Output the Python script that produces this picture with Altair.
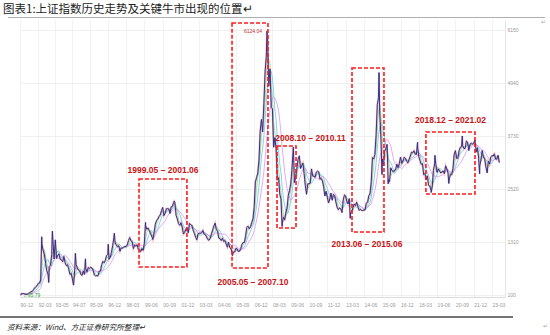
import altair as alt
import pandas as pd

# Monthly closes of the SSE Composite, 1990-12 .. 2023-08 (read/estimated)
closes_1990s = [
    127.6,
    130.0, 133.1, 120.2, 113.9, 114.8, 137.6, 145.6, 180.9, 180.2, 218.6, 259.6, 292.8,
    313.2, 364.6, 371.8, 445.3, 1265.8, 1120.0, 1030.4, 823.3, 649.9, 577.7, 750.0, 780.4,
    1029.0, 1358.0, 925.0, 1359.0, 933.0, 1007.0, 1035.0, 914.0, 902.0, 858.0, 981.0, 833.8,
    770.0, 793.0, 694.0, 571.0, 593.0, 467.0, 333.9, 720.0, 800.0, 719.0, 667.0, 647.9,
    562.0, 549.0, 648.0, 568.0, 700.0, 631.0, 727.0, 710.0, 735.0, 716.0, 664.0, 555.3,
    537.0, 541.0, 538.0, 644.0, 650.0, 797.0, 868.0, 835.0, 893.0, 1000.0, 1029.0, 917.0,
    966.0, 1068.0, 1224.0, 1407.0, 1298.0, 1243.0, 1202.0, 1224.0, 1098.0, 1174.0, 1172.0, 1194.0,
    1206.0, 1206.0, 1243.0, 1343.0, 1411.0, 1339.0, 1316.0, 1159.0, 1236.0, 1218.0, 1244.0, 1147.0,
    1135.0, 1091.0, 1158.0, 1120.0, 1279.0, 1690.0, 1601.0, 1628.0, 1571.0, 1510.0, 1447.0, 1367.0,
]
closes_2000s = [
    1535, 1714, 1800, 1836, 1894, 1928, 2023, 2101, 1911, 1961, 2070, 2073,
    2065, 1960, 2113, 2120, 2214, 2218, 1920, 1834, 1730, 1690, 1749, 1646,
    1491, 1524, 1603, 1636, 1516, 1733, 1707, 1686, 1581, 1503, 1420, 1358,
    1500, 1511, 1510, 1521, 1576, 1487, 1477, 1422, 1367, 1349, 1397, 1497,
    1590, 1675, 1742, 1595, 1555, 1400, 1386, 1342, 1397, 1321, 1341, 1266,
    1191, 1306, 1181, 1159, 1060, 1080, 1083, 1163, 1155, 1092, 1099, 1161,
    1258, 1299, 1298, 1440, 1641, 1672, 1612, 1658, 1753, 1837, 2099, 2675,
    2786, 2881, 3183, 3841, 4109, 3820, 4471, 5218, 5552, 5954, 4871, 5262,
    4383, 4348, 3473, 3693, 3433, 2736, 2776, 2397, 2293, 1729, 1871, 1821,
    1991, 2082, 2373, 2477, 2633, 2959, 3412, 2667, 2779, 2996, 3195, 3277,
]
closes_2010s = [
    2989, 3051, 3110, 2871, 2592, 2398, 2638, 2639, 2656, 2979, 2820, 2808,
    2791, 2905, 2928, 2911, 2743, 2762, 2701, 2568, 2359, 2469, 2333, 2199,
    2292, 2428, 2263, 2397, 2373, 2225, 2103, 2047, 2086, 2069, 1980, 2269,
    2385, 2366, 2237, 2178, 2301, 1979, 1994, 2098, 2175, 2141, 2220, 2116,
    2033, 2056, 2033, 2026, 2039, 2048, 2202, 2218, 2364, 2420, 2683, 3235,
    3210, 3310, 3748, 4442, 4612, 4277, 3664, 3206, 3053, 3383, 3445, 3539,
    2738, 2688, 3004, 2938, 2917, 2930, 2979, 3085, 3005, 3100, 3250, 3104,
    3159, 3242, 3223, 3155, 3117, 3192, 3273, 3361, 3349, 3393, 3317, 3307,
    3481, 3259, 3169, 3082, 3095, 2847, 2876, 2725, 2821, 2603, 2588, 2494,
    2585, 2941, 3091, 3078, 2899, 2979, 2933, 2886, 2905, 2929, 2872, 3050,
]
closes_2020s = [
    2977, 2880, 2750, 2860, 2852, 2985, 3310, 3396, 3218, 3225, 3392, 3473,
    3483, 3509, 3442, 3447, 3615, 3591, 3397, 3544, 3568, 3547, 3564, 3640,
    3361, 3462, 3252, 3047, 3186, 3399, 3253, 3202, 3024, 2893, 3151, 3089,
    3255, 3280, 3273, 3323, 3205, 3202, 3291, 3120,
]

# Intra-month extremes (highs / lows) visible as spikes in the chart
extreme_dates = [
    "1990-12-19", "1992-05-26", "1992-11-17", "1993-02-16", "1994-07-29", "1994-09-13",
    "1995-05-22", "1996-12-11", "1997-05-12", "1999-06-30", "2001-06-14", "2005-06-06",
    "2007-10-16", "2008-10-28", "2009-08-04", "2013-06-25", "2015-06-12", "2015-08-26",
    "2016-01-27", "2018-01-29", "2019-01-04", "2019-04-08", "2020-03-19", "2021-02-18",
    "2022-04-27", "2022-10-31",
]
extreme_values = [
    95.79, 1429, 386, 1558, 325, 1052,
    926, 1258, 1510, 1756, 2245, 998,
    6124.04, 1664, 3478, 1849, 5178, 2850,
    2638, 3587, 2440, 3288, 2646, 3731,
    2863, 2885,
]

# x-axis tick labels
tick_labels = ["90-12", "92-03", "93-05", "94-07", "95-09", "96-12", "98-03", "99-06",
               "00-09", "01-12", "03-03", "04-06", "05-09", "06-12", "08-03", "09-06",
               "10-09", "11-12", "13-03", "14-06", "15-09", "16-12", "18-03", "19-06",
               "20-09", "21-12", "23-03"]
y_ticks = [100, 1310, 2520, 3730, 4940, 6150]

# Highlighted bull-market boxes
box_labels = ["1999.05 – 2001.06", "2005.05 – 2007.10", "2008.10 – 2010.11",
              "2013.06 – 2015.06", "2018.12 – 2021.02"]
box_starts = ["1999-01-18", "2005-05-27", "2008-06-23", "2013-08-07", "2018-08-26"]
box_ends = ["2002-04-28", "2007-11-10", "2009-10-10", "2015-10-14", "2022-01-01"]
box_tops = [2748, 6310, 3502, 5282, 3821]
box_bottoms = [739, 717, 1630, 1538, 2406]
label_dates = ["2000-09-08", "2006-11-01", "2010-10-06", "2014-08-16", "2020-04-30"]
label_values = [2954, 397, 3684, 1264, 4095]

title_text = "图表1:上证指数历史走势及关键牛市出现的位置↵"
source_text = "资料来源：Wind、方正证券研究所整理↵"

# ---------------------------------------------------------------- data frames
closes = closes_1990s + closes_2000s + closes_2010s + closes_2020s
month_dates = pd.date_range("1991-01-01", periods=len(closes), freq="MS") - pd.Timedelta(days=1)
monthly = pd.DataFrame({"date": month_dates, "close": closes})
extremes = pd.DataFrame({"date": pd.to_datetime(extreme_dates), "close": extreme_values})
main = pd.concat([monthly, extremes]).sort_values("date").reset_index(drop=True)

boxes = pd.DataFrame({
    "start": pd.to_datetime(box_starts), "end": pd.to_datetime(box_ends),
    "top": box_tops, "bottom": box_bottoms,
    "ldate": pd.to_datetime(label_dates), "lval": label_values, "label": box_labels,
})
marks_df = pd.DataFrame({
    "date": pd.to_datetime(["2007-10-16", "1990-12-19"]),
    "close": [6124.04, 95.79],
    "text": ["6124.04", "←95.79"],
})

tick_dates = []
for t in tick_labels:
    yy = int(t[:2]); mm = int(t[3:])
    yr = 1900 + yy if yy > 50 else 2000 + yy
    tick_dates.append(alt.DateTime(year=yr, month=mm, date=1))

x_scale = alt.Scale(domain=[alt.DateTime(year=1990, month=12, date=1),
                            alt.DateTime(year=2024, month=1, date=20)])
y_scale = alt.Scale(domain=[54, 6378], nice=False, zero=False)

FONT = "Liberation Sans"

x_axis = alt.Axis(values=tick_dates, tickCount=60, format="%y-%m", labelAlign="left",
                  labelFontSize=5, labelColor="#9a9a9a", labelFont=FONT, grid=True,
                  gridColor="#ededed", gridWidth=0.8, domainColor="#dddddd", ticks=False,
                  labelPadding=5, labelOverlap=False, labelBound=False, title=None)
y_axis = alt.Axis(values=y_ticks, tickCount=20, format="d", orient="right", labelFontSize=5,
                  labelColor="#9a9a9a", labelFont=FONT, grid=True, gridColor="#ececec",
                  gridWidth=0.8, domainColor="#e6e6e6", ticks=False, labelPadding=2,
                  labelOverlap=False, title=None)

base = alt.Chart(monthly)

ma = base.transform_window(
    ma3="mean(close)", frame=[-2, 0], sort=[alt.SortField("date")]
).transform_window(
    ma6="mean(close)", frame=[-5, 0], sort=[alt.SortField("date")]
).transform_window(
    ma12="mean(close)", frame=[-11, 0], sort=[alt.SortField("date")]
).transform_fold(["ma3", "ma6", "ma12"], as_=["ma", "value"]).mark_line(
    strokeWidth=0.9, opacity=0.85
).encode(
    x=alt.X("date:T", scale=x_scale, axis=x_axis, title=None),
    y=alt.Y("value:Q", scale=y_scale, axis=y_axis, title=None),
    color=alt.Color("ma:N", scale=alt.Scale(domain=["ma3", "ma6", "ma12"],
                                            range=["#8fdc8f", "#5cc6e6", "#dd8ef0"]),
                    legend=None),
    detail="ma:N",
)

main_red = alt.Chart(main).mark_line(strokeWidth=2.0, color="#e04a4a", opacity=0.35).encode(
    x=alt.X("date:T", title=None), y=alt.Y("close:Q", title=None))
main_line = alt.Chart(main).mark_line(strokeWidth=1.0, color="#2d308f").encode(
    x=alt.X("date:T", title=None), y=alt.Y("close:Q", title=None))

box_rects = alt.Chart(boxes).mark_rect(
    filled=False, stroke="#ff1a1a", strokeWidth=1.6, strokeDash=[4, 2]
).encode(
    x=alt.X("start:T", title=None), x2="end:T",
    y=alt.Y("top:Q", title=None), y2="bottom:Q",
)
box_texts = alt.Chart(boxes).mark_text(
    font=FONT, fontSize=8.5, fontWeight="bold", color="#c81414", align="center",
    baseline="middle"
).encode(
    x=alt.X("ldate:T", title=None), y=alt.Y("lval:Q", title=None), text="label:N")

peak_text = alt.Chart(marks_df.iloc[[0]]).mark_text(
    font=FONT, fontSize=5, color="#c03030", align="right", baseline="middle", dx=-5
).encode(x=alt.X("date:T", title=None), y=alt.Y("close:Q", title=None), text="text:N")
low_text = alt.Chart(marks_df.iloc[[1]]).mark_text(
    font=FONT, fontSize=5, color="#2e9e2e", align="left", baseline="middle", dx=2
).encode(x=alt.X("date:T", title=None), y=alt.Y("close:Q", title=None), text="text:N")

dummy = alt.Chart(pd.DataFrame({"a": [0]}))
title_mark = dummy.mark_text(
    font="Noto Sans CJK SC", fontSize=11.5, color="#222222", align="left", baseline="middle"
).encode(x=alt.value(-17), y=alt.value(-10.5), text=alt.value(title_text))
title_rule = dummy.mark_rule(color="#9a9a9a", strokeWidth=0.8).encode(
    x=alt.value(-12), x2=alt.value(525), y=alt.value(-2.5))
src_rule = dummy.mark_rule(color="#444444", strokeWidth=1.3).encode(
    x=alt.value(-20), x2=alt.value(493), y=alt.value(297))
src_mark = dummy.mark_text(
    font="Noto Sans CJK SC", fontSize=7.6, fontStyle="italic", color="#222222",
    align="left", baseline="middle"
).encode(x=alt.value(-13), y=alt.value(307.5), text=alt.value(source_text))
ret1 = dummy.mark_text(fontSize=6, color="#aaaaaa").encode(
    x=alt.value(523), y=alt.value(2), text=alt.value("↵"))
ret2 = dummy.mark_text(fontSize=6, color="#aaaaaa").encode(
    x=alt.value(525), y=alt.value(306), text=alt.value("↵"))

chart = alt.layer(
    ma, main_red, main_line, box_rects, box_texts, peak_text, low_text,
    title_mark, title_rule, src_rule, src_mark, ret1, ret2,
).properties(
    width=485, height=277,
    padding={"left": 20, "top": 20, "right": 45, "bottom": 38},
    autosize=alt.AutoSizeParams(type="none"),
    background="white",
).configure_view(stroke=None)

chart.save("out.html", embed_options={"renderer": "svg", "actions": False})
